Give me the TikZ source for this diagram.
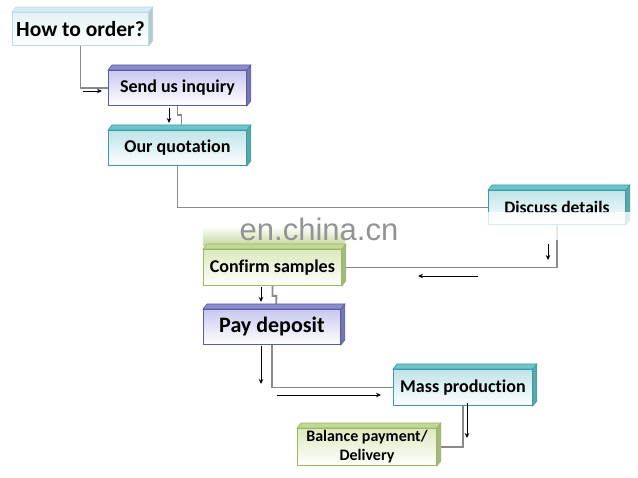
\documentclass[tikz,border=0pt]{standalone}
\usepackage{fontspec}
\setmainfont{Carlito}[Ligatures=NoCommon]
\usetikzlibrary{arrows.meta}
\pgfdeclarelayer{bg}
\pgfsetlayers{bg,main}
\definecolor{cyE}{HTML}{3A9CA8}\definecolor{cyT}{HTML}{6CC5C8}\definecolor{cyF}{HTML}{BFE3E8}
\definecolor{puE}{HTML}{5A5AA6}\definecolor{puT}{HTML}{8C8CCC}\definecolor{puF}{HTML}{C8C8EE}
\definecolor{grE}{HTML}{9BBB59}\definecolor{grT}{HTML}{C3D69B}\definecolor{grF}{HTML}{DCE9BE}
\definecolor{ltE}{HTML}{B6DDE8}\definecolor{ltT}{HTML}{D6ECF2}\definecolor{ltF}{HTML}{E4F3F6}
\definecolor{connC}{HTML}{8A8A8A}
\tikzset{
  box/.style={draw=#1E, line width=0.9pt, anchor=north west, inner sep=0pt,
    top color=#1F, bottom color=white, align=center,
    font=\bfseries\fontsize{18}{20}\selectfont},
  conn/.style={draw=connC, line width=1.8pt},
  arr/.style={-{Stealth[length=5pt,width=4.5pt]}, line width=0.9pt, black},
}
\newcommand\myfaces[3]{%
  \filldraw[fill=#2, draw=#3, line width=0.6pt] (#1.north west) -- ([shift={(4pt,5pt)}]#1.north west) -- ([shift={(4pt,5pt)}]#1.north east) -- (#1.north east) -- cycle;
  \filldraw[fill=#2!85!black, draw=#3, line width=0.6pt] (#1.north east) -- ([shift={(4pt,5pt)}]#1.north east) -- ([shift={(4pt,5pt)}]#1.south east) -- (#1.south east) -- cycle;}
\begin{document}
\begin{tikzpicture}[x=1pt,y=-1pt]
\useasboundingbox (0,0) rectangle (638,478);
% boxes
\node[box=lt, minimum width=136, minimum height=33, font=\bfseries\fontsize{21.5}{23}\selectfont] (n1) at (12,12) {How to order?};
\myfaces{n1}{ltT}{ltE}
\node[box=pu, minimum width=138, minimum height=35] (n2) at (108,70) {Send us inquiry};
\myfaces{n2}{puT}{puE}
\node[box=cy, minimum width=138, minimum height=35] (n3) at (108,130) {Our quotation};
\myfaces{n3}{cyT}{cyE}
\node[box=cy, minimum width=137, minimum height=34, font=\bfseries\fontsize{17.5}{20}\selectfont] (n4) at (488,190) {Discuss details};
\myfaces{n4}{cyT}{cyE}
% glow above confirm samples
\shade[top color=white, bottom color=grT] (203,226) rectangle (345,246);
\node[box=gr, minimum width=138, minimum height=36] (n5) at (203,249) {Confirm samples};
\myfaces{n5}{grT}{grE}
\node[box=pu, minimum width=137, minimum height=35, font=\bfseries\fontsize{22}{24}\selectfont] (n6) at (203,309) {Pay deposit};
\myfaces{n6}{puT}{puE}
\node[box=cy, minimum width=139, minimum height=36] (n7) at (393,369) {Mass production};
\myfaces{n7}{cyT}{cyE}
\node[box=gr, minimum width=139, minimum height=37, font=\bfseries\fontsize{16}{19}\selectfont] (n8) at (297,428) {Balance payment/\\Delivery};
\myfaces{n8}{grT}{grE}
% connectors
\begin{pgfonlayer}{bg}
\draw[conn] (n1.south) |- (n2.west);
\draw[conn] (n2.south) -- ++(0,9) -- ++(4,0) -- ([xshift=4pt]n3.north);
\draw[conn] (n3.south) |- (n4.west);
\draw[conn] (n4.south) |- (n5.east);
\draw[conn] (n5.south) -- ++(0,10) -- ++(4,0) -- ([xshift=4pt]n6.north);
\draw[conn] (n6.south) |- (n7.west);
\draw[conn] (n7.south) |- (n8.east);
\end{pgfonlayer}
% small black arrows
\coordinate (a1s) at (83,91); \coordinate (a1e) at (102,91);
\coordinate (a2s) at (169,108); \coordinate (a2e) at (169,123);
\coordinate (a3s) at (548,244); \coordinate (a3e) at (548,260);
\coordinate (a4s) at (478,276); \coordinate (a4e) at (418,276);
\coordinate (a5s) at (261,287); \coordinate (a5e) at (261,302);
\coordinate (a6s) at (261,346); \coordinate (a6e) at (261,384);
\coordinate (a7s) at (277,395); \coordinate (a7e) at (381,395);
\coordinate (a8s) at (467,403); \coordinate (a8e) at (467,438);
\foreach \i in {1,...,8} {\draw[arr] (a\i s) -- (a\i e);}
% watermark band
\fill[white, opacity=0.8] (478,212) rectangle (634,240);
\node[font=\fontspec{Liberation Sans}\fontsize{31}{31}\selectfont, text=gray!85] (wm) at (319,229) {en.china.cn};
\end{tikzpicture}
\end{document}
